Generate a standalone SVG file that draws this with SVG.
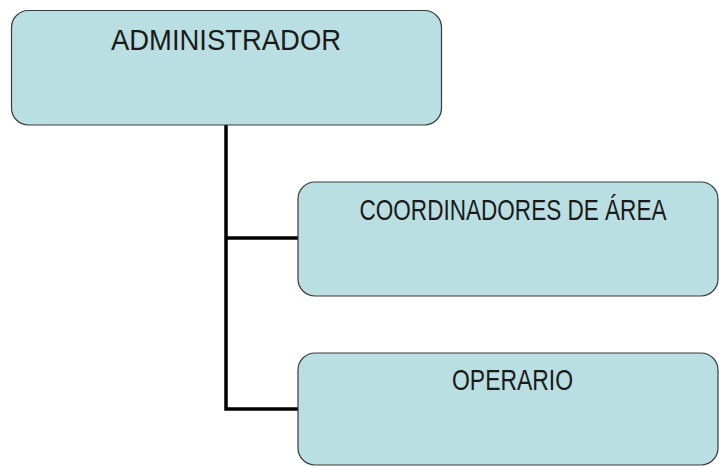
<svg xmlns="http://www.w3.org/2000/svg" width="719" height="466" viewBox="0 0 719 466">
<style>
.box{fill:#b9dfe2;stroke:#3a3a3a;stroke-width:1.2}
.lbl{font-family:"Liberation Sans",Arial,sans-serif;font-size:29px;fill:#1a1a1a;text-anchor:middle}
.conn{fill:none;stroke:#000;stroke-width:3.5}
</style>
<rect width="719" height="466" fill="#fff"/>
<g id="connectors">
<path class="conn" d="M226,125 V409 H298"/>
<path class="conn" d="M226,238 H298"/>
</g>
<g id="admin">
<rect class="box" x="11.5" y="10.5" width="430" height="114.5" rx="17"/>
<text class="lbl" transform="translate(226,50) scale(0.946,1)">ADMINISTRADOR</text>
</g>
<g id="coordinadores">
<rect class="box" x="298" y="182" width="420" height="114" rx="17"/>
<text class="lbl" transform="translate(513,220) scale(0.778,1)">COORDINADORES DE ÁREA</text>
</g>
<g id="operario">
<rect class="box" x="298" y="353" width="420" height="112" rx="17"/>
<text class="lbl" transform="translate(512.5,390) scale(0.79,1)">OPERARIO</text>
</g>
</svg>
